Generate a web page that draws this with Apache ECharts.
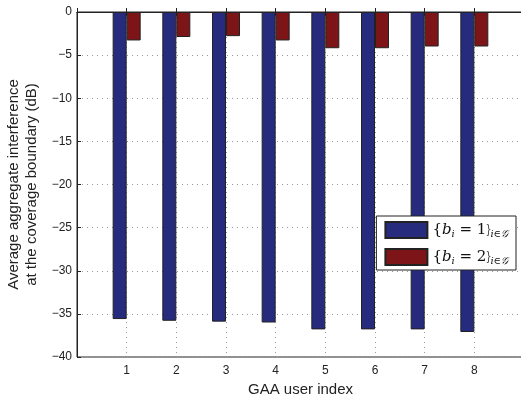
<!DOCTYPE html>
<html><head><meta charset="utf-8">
<script src="https://cdn.jsdelivr.net/npm/echarts@6/dist/echarts.min.js"></script>
<style>html,body{margin:0;padding:0;background:#fff}#c{width:521px;height:394px}</style>
</head><body><div id="c"></div>
<script>
const users = [1, 2, 3, 4, 5, 6, 7, 8];
const seriesB1 = [-35.6, -35.8, -35.9, -36.0, -36.8, -36.8, -36.8, -37.1];
const seriesB2 = [-3.3, -2.9, -2.8, -3.3, -4.2, -4.2, -4.0, -4.0];
const yTicks = [0, -5, -10, -15, -20, -25, -30, -35, -40];

const chart = echarts.init(document.getElementById('c'));
const font = 'Liberation Sans, Arial, sans-serif';
const rich = {
  m: {fontFamily: 'DejaVu Serif, serif', fontSize: 15, color: '#111'},
  it: {fontFamily: 'DejaVu Serif, serif', fontStyle: 'italic', fontSize: 15, color: '#111'},
  sub: {fontFamily: 'DejaVu Serif, serif', fontStyle: 'italic', fontSize: 10, color: '#111', padding: [8, 0, 0, 0]},
  subs: {fontFamily: 'DejaVu Serif, serif', fontSize: 10, color: '#111', padding: [8, 0, 0, 0]}
};
const minus = v => String(v).replace('-', '\u2212');
chart.setOption({
  animation: false,
  grid: {left: 77, right: -3, top: 12, bottom: 37, outerBoundsMode: 'none', containLabel: false,
         show: true, borderColor: '#222', borderWidth: 1},
  legend: {
    right: 5, top: 216, orient: 'vertical', icon: 'rect', itemWidth: 42, itemHeight: 16, itemGap: 9,
    backgroundColor: '#fff', borderColor: '#222', borderWidth: 1, padding: [5, 8, 4, 8],
    data: ['b1', 'b2'],
    formatter: function (n) {
      const v = n === 'b1' ? '1' : '2';
      return '{m|{}{it|b}{sub|i}{m| = ' + v + '}}{sub|i}{subs|∈}{sub|𝒢}';
    },
    textStyle: {rich: rich}
  },
  xAxis: [{
    type: 'value', min: 0, max: 9, interval: 1,
    name: 'GAA user index', nameLocation: 'middle', nameGap: 21,
    nameTextStyle: {fontFamily: font, fontSize: 15, color: '#222'},
    axisLine: {lineStyle: {color: '#222', width: 1}},
    axisTick: {inside: true, length: 4, lineStyle: {color: '#222'}},
    axisLabel: {fontFamily: font, fontSize: 12, color: '#222', margin: 8,
      formatter: v => users.includes(v) ? String(v) : ''},
    splitLine: {show: true, lineStyle: {color: '#999', type: [1, 4], width: 1}}
  }, {
    type: 'value', min: 0, max: 9, interval: 1, position: 'top',
    axisLine: {show: true, lineStyle: {color: '#222', width: 1}},
    axisTick: {show: true, inside: true, length: 4, lineStyle: {color: '#222'}},
    axisLabel: {show: false}, splitLine: {show: false}
  }],
  yAxis: {
    type: 'value', min: -40, max: 0, interval: 5,
    name: 'Average aggregate interference\nat the coverage boundary (dB)',
    nameLocation: 'middle', nameGap: 36, nameRotate: 90,
    nameTextStyle: {fontFamily: font, fontSize: 15, color: '#222', lineHeight: 18},
    axisLine: {show: true, lineStyle: {color: '#222', width: 1}},
    axisTick: {inside: true, length: 4, lineStyle: {color: '#222'}},
    axisLabel: {fontFamily: font, fontSize: 12, color: '#222', margin: 5,
      formatter: v => yTicks.includes(v) ? minus(v) : ''},
    splitLine: {show: true, lineStyle: {color: '#999', type: [1, 4], width: 1}}
  },
  series: [
    {name: 'b1', type: 'bar', barWidth: 14, barGap: '0%',
     data: users.map((u, i) => [u, seriesB1[i]]),
     itemStyle: {color: '#262b7e', borderColor: '#222', borderWidth: 1}},
    {name: 'b2', type: 'bar', barWidth: 14, barGap: '0%',
     data: users.map((u, i) => [u, seriesB2[i]]),
     itemStyle: {color: '#7d1518', borderColor: '#222', borderWidth: 1}}
  ]
});
</script></body></html>
